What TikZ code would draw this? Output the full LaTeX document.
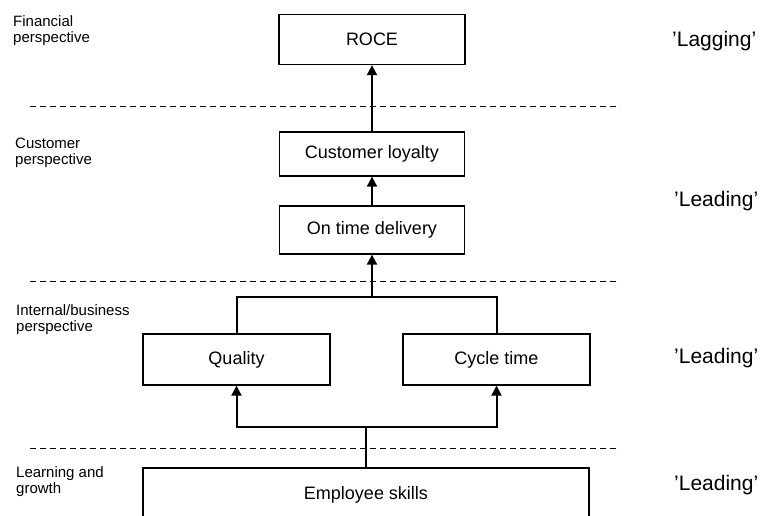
\documentclass[tikz,border=0pt]{standalone}
\usepackage{fontspec}
\setmainfont{Liberation Sans}
\usetikzlibrary{arrows.meta}
\begin{document}
\begin{tikzpicture}[x=1pt,y=-1pt,
  box/.style={draw, line width=1.3pt, inner sep=0pt, font=\fontsize{18}{20}\selectfont},
  conn/.style={line width=2pt},
  arr/.style={conn, -{Triangle[length=10pt,width=10pt]}},
  sep/.style={line width=1pt, dash pattern=on 6pt off 4pt},
  lbl/.style={anchor=base west, align=left, font=\fontsize{15}{16}\selectfont, inner sep=0pt},
  tag/.style={anchor=base west, inner sep=0pt, font=\fontsize{21}{24}\selectfont}]
\useasboundingbox (0,0) rectangle (763,515);
\clip (0,0) rectangle (763,515);

% separators
\draw[sep] (30,106) -- (620,106);
\draw[sep] (30,281) -- (620,281);
\draw[sep] (30,448) -- (620,448);

% boxes
\node[box, minimum width=186pt, minimum height=50pt] (roce) at (372,39.5) {ROCE};
\node[box, minimum width=185pt, minimum height=44pt] (cl) at (372,154) {Customer loyalty};
\node[box, minimum width=185pt, minimum height=48pt] (otd) at (372,230) {On time delivery};
\node[box, minimum width=187pt, minimum height=51pt] (q) at (236.5,359.5) {Quality};
\node[box, minimum width=187pt, minimum height=51pt] (ct) at (496.5,359.5) {Cycle time};
\node[box, minimum width=446pt, minimum height=54pt] (emp) at (366,495) {Employee skills};

% connectors
\draw[arr] (cl.north) -- (roce.south);
\draw[arr] (otd.north) -- (cl.south);
\draw[conn] (q.north) -- ++(0,-36) -| (ct.north);
\coordinate (j1) at (372,298);
\draw[arr] (j1) -- (otd.south);
\coordinate (j2) at (366,427);
\draw[conn] (emp.north) -- (j2);
\draw[arr] (j2) -| (q.south);
\draw[arr] (j2) -| (ct.south);

% left labels (anchor = baseline of last line)
\node[lbl] (l1) at (13,42) {Financial\\perspective};
\node[lbl] (l2) at (15,164) {Customer\\perspective};
\node[lbl] (l3) at (16,331) {Internal/business\\perspective};
\node[lbl] (l4) at (16,493) {Learning and\\growth};

% right labels
\node[tag] (r1) at (672,46) {'Lagging'};
\node[tag] (r2) at (674,206) {'Leading'};
\node[tag] (r3) at (674,363) {'Leading'};
\node[tag] (r4) at (674,490) {'Leading'};
\end{tikzpicture}
\end{document}
